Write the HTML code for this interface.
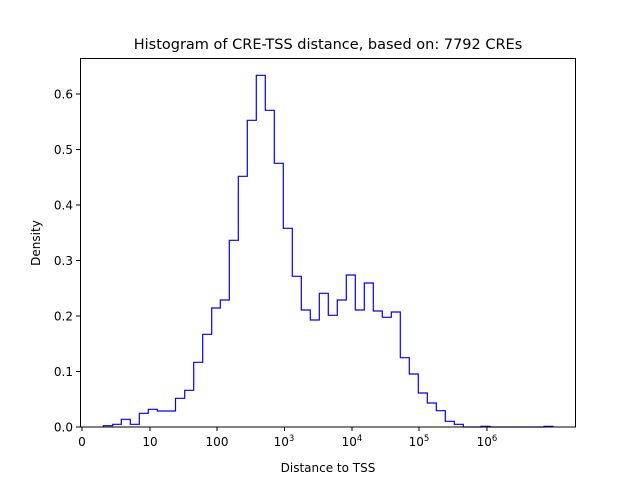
<!DOCTYPE html>
<html><head><style>body{margin:0;background:#fff}</style></head><body>
<svg width="640" height="480" viewBox="0 0 640 480" xmlns="http://www.w3.org/2000/svg" font-family="DejaVu Sans, Liberation Sans, sans-serif">
<rect width="640" height="480" fill="#fff"/>
<text x="328" y="49" font-size="14.5" text-anchor="middle">Histogram of CRE-TSS distance, based on: 7792 CREs</text>
<polyline fill="none" stroke="#0000ff" stroke-width="1.2" points="
103.3,427 103.3,425.7 112.7,425.7 112.7,424.3 121.3,424.3 121.3,419.3 130.3,419.3 130.3,424.3 139.3,424.3 139.3,413.3 148.3,413.3 148.3,409.3 157.3,409.3 157.3,411 175.5,411 175.5,398.3 184.7,398.3 184.7,390.3 193.7,390.3 193.7,362.3 202.7,362.3 202.7,334.3 211.7,334.3 211.7,308 220.3,308 220.3,300 229.3,300 229.3,240.3 238.3,240.3 238.3,176.3 247.3,176.3 247.3,120.3 256.3,120.3 256.3,75.3 265.3,75.3 265.3,110.3 274.3,110.3 274.3,163.3 283.3,163.3 283.3,228.3 292.3,228.3 292.3,276.3 301.3,276.3 301.3,310 310.3,310 310.3,320 319.3,320 319.3,293.3 328.3,293.3 328.3,315.3 337.3,315.3 337.3,300 346.3,300 346.3,275 355.3,275 355.3,310 364.3,310 364.3,283 373.3,283 373.3,311 382.3,311 382.3,317.3 391.3,317.3 391.3,312 400.3,312 400.3,357.7 409.3,357.7 409.3,374 418.3,374 418.3,393 427.3,393 427.3,403 436.3,403 436.3,410.7 445.3,410.7 445.3,421.3 454.3,421.3 454.3,424.3 463.3,424.3 463.3,427 481,427 481,426.3 490,426.3 490,427 544,427 544,426.3 553,426.3 553,427"/>
<rect x="80.5" y="58.5" width="495" height="368.5" fill="none" stroke="#000" stroke-width="1"/>
<g stroke="#000" stroke-width="1">
<line x1="76" y1="427" x2="80" y2="427"/><line x1="76" y1="371.5" x2="80" y2="371.5"/><line x1="76" y1="316" x2="80" y2="316"/><line x1="76" y1="260.5" x2="80" y2="260.5"/><line x1="76" y1="205" x2="80" y2="205"/><line x1="76" y1="149.5" x2="80" y2="149.5"/><line x1="76" y1="94" x2="80" y2="94"/>
<line x1="82" y1="427" x2="82" y2="431"/><line x1="150" y1="427" x2="150" y2="431"/><line x1="217" y1="427" x2="217" y2="431"/><line x1="284.5" y1="427" x2="284.5" y2="431"/><line x1="352" y1="427" x2="352" y2="431"/><line x1="419" y1="427" x2="419" y2="431"/><line x1="487" y1="427" x2="487" y2="431"/>
</g>
<g font-size="12" text-anchor="end">
<text x="73" y="431.5">0.0</text><text x="73" y="376">0.1</text><text x="73" y="320.5">0.2</text><text x="73" y="265">0.3</text><text x="73" y="209.5">0.4</text><text x="73" y="154">0.5</text><text x="73" y="98.5">0.6</text>
</g>
<g font-size="12" text-anchor="middle">
<text x="82" y="446">0</text><text x="150" y="446">10</text><text x="217" y="446">100</text>
<text x="284" y="446">10<tspan font-size="8.5" dy="-5">3</tspan></text>
<text x="352" y="446">10<tspan font-size="8.5" dy="-5">4</tspan></text>
<text x="419" y="446">10<tspan font-size="8.5" dy="-5">5</tspan></text>
<text x="487" y="446">10<tspan font-size="8.5" dy="-5">6</tspan></text>
<text x="328" y="472">Distance to TSS</text>
</g>
<text transform="translate(40,243) rotate(-90)" font-size="12" text-anchor="middle">Density</text>
</svg>
</body></html>
